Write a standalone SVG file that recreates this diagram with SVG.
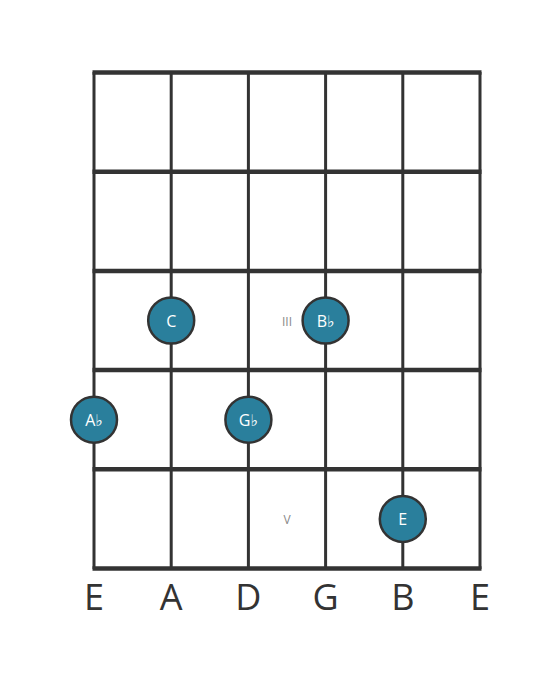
<svg xmlns="http://www.w3.org/2000/svg" width="560" height="682" viewBox="0 0 560 682">
<style>
.str{stroke:#333;stroke-width:3}
.fret{stroke:#333;stroke-width:4.5}
.dot circle{fill:#2a7f9c;stroke:#333;stroke-width:2.5}
.dot text{fill:#fff;font-family:"Open Sans","DejaVu Sans",sans-serif;font-size:16px;text-anchor:middle}
.num{fill:#888;font-family:"Open Sans","DejaVu Sans",sans-serif;font-size:12px;text-anchor:middle}
.lbl{fill:#333;font-family:"Open Sans","DejaVu Sans",sans-serif;font-size:36px;text-anchor:middle}
</style>
<rect width="560" height="682" fill="#fff"/>
<g id="connectors">
<line class="str" x1="94" y1="72" x2="94" y2="569"/>
<line class="str" x1="171.2" y1="72" x2="171.2" y2="569"/>
<line class="str" x1="248.4" y1="72" x2="248.4" y2="569"/>
<line class="str" x1="325.6" y1="72" x2="325.6" y2="569"/>
<line class="str" x1="402.8" y1="72" x2="402.8" y2="569"/>
<line class="str" x1="480" y1="72" x2="480" y2="569"/>
<line class="fret" x1="92.5" y1="72.5" x2="481.5" y2="72.5"/>
<line class="fret" x1="92.5" y1="171.7" x2="481.5" y2="171.7"/>
<line class="fret" x1="92.5" y1="270.9" x2="481.5" y2="270.9"/>
<line class="fret" x1="92.5" y1="370.1" x2="481.5" y2="370.1"/>
<line class="fret" x1="92.5" y1="469.3" x2="481.5" y2="469.3"/>
<line class="fret" x1="92.5" y1="568.5" x2="481.5" y2="568.5"/>
</g>
<text class="num" x="287" y="325.5">III</text>
<text class="num" x="287" y="524">V</text>
<g id="n-C" class="dot"><circle cx="171.2" cy="320.5" r="23"/><text x="171.2" y="326.5">C</text></g>
<g id="n-Bb" class="dot"><circle cx="325.6" cy="320.5" r="23"/><text x="325.6" y="326.5">B♭</text></g>
<g id="n-Ab" class="dot"><circle cx="94" cy="419.7" r="23"/><text x="94" y="425.7">A♭</text></g>
<g id="n-Gb" class="dot"><circle cx="248.4" cy="419.7" r="23"/><text x="248.4" y="425.7">G♭</text></g>
<g id="n-E" class="dot"><circle cx="402.8" cy="518.9" r="23"/><text x="402.8" y="524.9">E</text></g>
<g id="labels">
<text class="lbl" x="94" y="610">E</text>
<text class="lbl" x="171.2" y="610">A</text>
<text class="lbl" x="248.4" y="610">D</text>
<text class="lbl" x="325.6" y="610">G</text>
<text class="lbl" x="402.8" y="610">B</text>
<text class="lbl" x="480" y="610">E</text>
</g>
</svg>
